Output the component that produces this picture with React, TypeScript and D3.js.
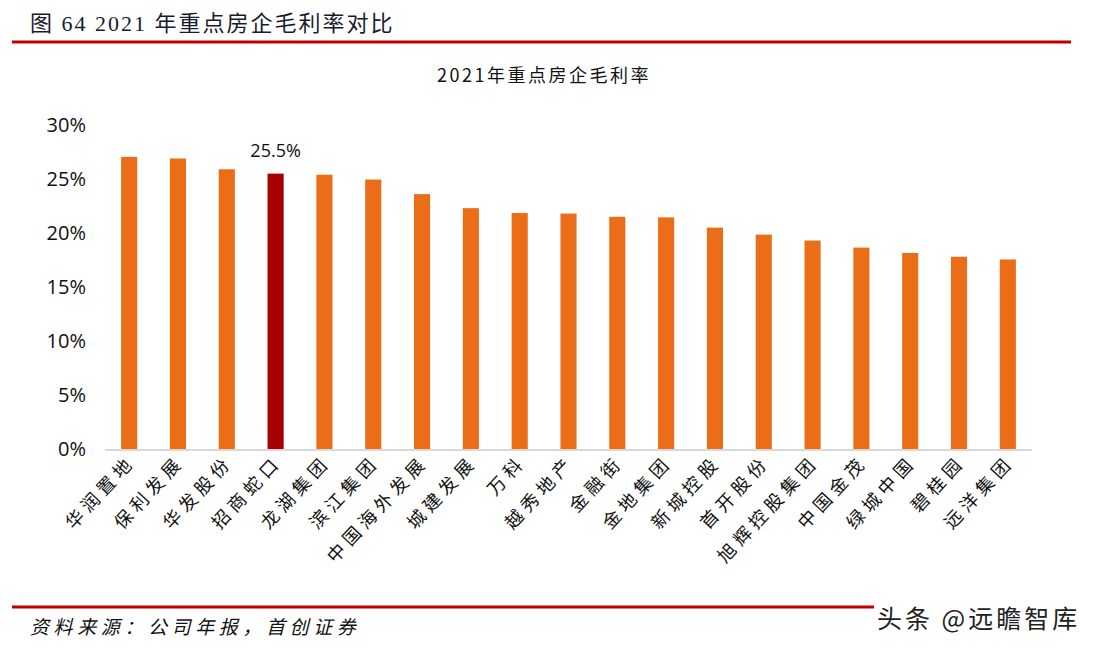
import React, { useEffect, useRef } from 'react';
import * as d3 from 'd3';

const companies = ['华润置地', '保利发展', '华发股份', '招商蛇口', '龙湖集团', '滨江集团', '中国海外发展', '城建发展', '万科', '越秀地产', '金融街', '金地集团', '新城控股', '首开股份', '旭辉控股集团', '中国金茂', '绿城中国', '碧桂园', '远洋集团'];
const margins = [27.05, 26.9, 25.9, 25.5, 25.4, 24.95, 23.6, 22.3, 21.85, 21.8, 21.5, 21.45, 20.5, 19.85, 19.3, 18.65, 18.15, 17.8, 17.55];
const yTicks = [0, 5, 10, 15, 20, 25, 30];
const highlight = '招商蛇口';

const W = 1097;
const H = 650;

const App: React.FC = () => {
  const svgRef = useRef<SVGSVGElement | null>(null);

  useEffect(() => {
    if (!svgRef.current) return;
    const svg = d3.select(svgRef.current);
    svg.selectAll('*').remove();

    const left = 105, right = 1032, top = 125, bottom = 449;
    const cjk = '"Noto Sans CJK SC", "Noto Sans", sans-serif';

    const x = d3.scaleBand<string>()
      .domain(companies)
      .range([left, right])
      .paddingInner(0.67)
      .paddingOuter(0.33);

    const y = d3.scaleLinear().domain([0, 30]).range([bottom, top]);

    // header
    svg.append('text')
      .attr('x', 30).attr('y', 31)
      .attr('font-family', '"Liberation Serif", "Noto Sans CJK SC", serif')
      .attr('font-size', 22)
      .attr('letter-spacing', 2)
      .attr('fill', '#1a1a2e')
      .text('图 64 2021 年重点房企毛利率对比');

    svg.append('line')
      .attr('x1', 12).attr('x2', 1071).attr('y1', 42).attr('y2', 42)
      .attr('stroke', '#c00000').attr('stroke-width', 3);

    svg.append('text')
      .attr('x', 544).attr('y', 82)
      .attr('text-anchor', 'middle')
      .attr('font-family', cjk)
      .attr('font-size', 18)
      .attr('letter-spacing', 2.5)
      .attr('fill', '#111')
      .text('2021年重点房企毛利率');

    // y axis labels
    svg.append('g')
      .selectAll('text')
      .data(yTicks)
      .join('text')
      .attr('x', 86)
      .attr('y', d => y(d))
      .attr('dy', '0.35em')
      .attr('text-anchor', 'end')
      .attr('font-family', '"Open Sans", "Noto Sans", sans-serif')
      .attr('font-size', 20)
      .attr('fill', '#111')
      .text(d => `${d}%`);

    // bars
    svg.append('g')
      .selectAll('rect')
      .data(companies)
      .join('rect')
      .attr('x', d => x(d) || 0)
      .attr('y', (_, i) => y(margins[i]))
      .attr('width', x.bandwidth())
      .attr('height', (_, i) => y(0) - y(margins[i]))
      .attr('fill', d => (d === highlight ? '#a80000' : '#ec6d17'));

    // baseline
    svg.append('line')
      .attr('x1', left).attr('x2', right)
      .attr('y1', bottom + 1).attr('y2', bottom + 1)
      .attr('stroke', '#d9d9d9').attr('stroke-width', 2);

    // data label
    const hi = companies.indexOf(highlight);
    svg.append('text')
      .attr('x', (x(highlight) || 0) + x.bandwidth() / 2)
      .attr('y', y(margins[hi]) - 17)
      .attr('text-anchor', 'middle')
      .attr('font-family', '"Open Sans", "Noto Sans", sans-serif')
      .attr('font-size', 18)
      .attr('fill', '#111')
      .text(`${margins[hi]}%`);

    // x labels
    svg.append('g')
      .selectAll('text')
      .data(companies)
      .join('text')
      .attr('transform', d => `translate(${(x(d) || 0) + x.bandwidth() / 2 + 7},${bottom + 14}) rotate(-47)`)
      .attr('text-anchor', 'end')
      .attr('font-family', cjk)
      .attr('font-size', 18)
      .attr('letter-spacing', 5)
      .attr('fill', '#111')
      .text(d => d);

    // footer
    svg.append('line')
      .attr('x1', 12).attr('x2', 1075).attr('y1', 607).attr('y2', 607)
      .attr('stroke', '#c00000').attr('stroke-width', 3);

    svg.append('text')
      .attr('x', 30).attr('y', 634)
      .attr('font-family', cjk)
      .attr('font-style', 'italic')
      .attr('font-size', 19)
      .attr('letter-spacing', 4.6)
      .attr('fill', '#111')
      .text('资料来源：公司年报，首创证券');

    svg.append('rect')
      .attr('x', 874).attr('y', 598).attr('width', 215).attr('height', 36)
      .attr('fill', '#fff');
    svg.append('text')
      .attr('x', 877).attr('y', 628)
      .attr('font-family', cjk)
      .attr('font-size', 25)
      .attr('letter-spacing', 3)
      .attr('fill', '#222')
      .text('头条 @远瞻智库');
  }, []);

  return (
    <svg
      ref={svgRef}
      width={W}
      height={H}
      style={{ position: 'absolute', left: 0, top: 0, background: '#fff' }}
    />
  );
};

export default App;
